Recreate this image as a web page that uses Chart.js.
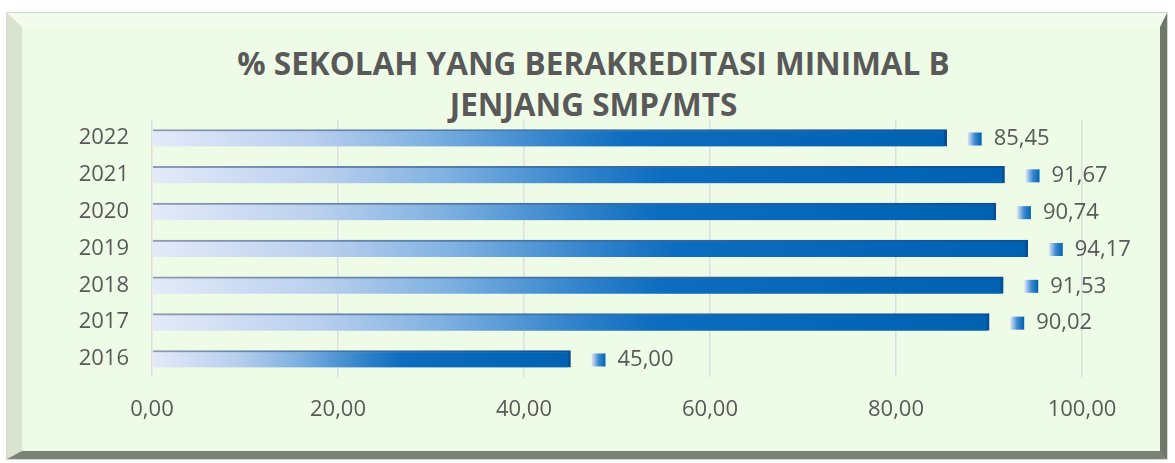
<!DOCTYPE html>
<html><head><meta charset="utf-8">
<script src="https://cdn.jsdelivr.net/npm/chart.js@4/dist/chart.umd.min.js"></script>
<style>
html,body{margin:0;padding:0;background:#fff;width:1175px;height:463px;overflow:hidden;font-family:"Open Sans",sans-serif;}
#frame{position:absolute;left:7px;top:13px;width:1138px;height:424px;background:#eefbe6;
 border-style:solid;border-width:14px 7px 8px 15px;border-color:#f3faee #6f776a #7b8377 #d9e3d0;
 box-shadow:0 0 0 1px #d4d8d0;}
#title{position:absolute;left:0;width:1175px;top:42px;text-align:center;color:#595959;font-weight:700;font-size:31.5px;line-height:41px;padding-left:12px;box-sizing:border-box;}
canvas{position:absolute;left:0;top:0;}
</style></head>
<body>
<div id="frame"></div>
<div id="title">% SEKOLAH YANG BERAKREDITASI MINIMAL B<br>JENJANG SMP/MTS</div>
<canvas id="c" width="1175" height="463"></canvas>
<script>
const years = ["2022","2021","2020","2019","2018","2017","2016"];
const values = [85.45, 91.67, 90.74, 94.17, 91.53, 90.02, 45.00];
const xTicks = [0, 20, 40, 60, 80, 100];

const fmt = v => v.toFixed(2).replace('.', ',');
const TXT = '#595959';

function barGrad(ctx, dark) {
  const chart = ctx.chart;
  if (!chart.chartArea) return '#0a6bbf';
  const xs = chart.scales.x;
  const x0 = xs.getPixelForValue(0), x1 = xs.getPixelForValue(ctx.raw);
  const g = chart.ctx.createLinearGradient(x0, 0, x1, 0);
  if (dark) {
    g.addColorStop(0, '#8d9bb5'); g.addColorStop(0.5, '#3a6fa6'); g.addColorStop(1, '#0a4e95');
  } else {
    g.addColorStop(0, '#e4eaf9'); g.addColorStop(0.2, '#b9cfee'); g.addColorStop(0.35, '#7db0e1');
    g.addColorStop(0.5, '#3384cc'); g.addColorStop(0.6, '#0c6cbf'); g.addColorStop(1, '#0062b1');
  }
  return g;
}

const labelPlugin = {
  id: 'valLabels',
  afterDatasetsDraw(chart) {
    const c = chart.ctx;
    const meta = chart.getDatasetMeta(0);
    c.save();
    meta.data.forEach((bar, i) => {
      const xe = bar.x, yc = bar.y;
      const mx = xe + 21, my = yc - 5.5;
      const g = c.createLinearGradient(mx, 0, mx + 14, 0);
      g.addColorStop(0, '#dfe8f8'); g.addColorStop(0.5, '#3f8ad0'); g.addColorStop(1, '#0062b1');
      c.fillStyle = g;
      c.fillRect(mx, my, 14, 13);
      c.fillStyle = TXT;
      c.font = '22px "Open Sans"';
      c.textAlign = 'left';
      c.textBaseline = 'middle';
      c.fillText(fmt(values[i]), xe + 47, yc + 1);
    });
    c.restore();
  }
};

new Chart(document.getElementById('c'), {
  type: 'bar',
  data: {
    labels: years,
    datasets: [{
      data: values,
      backgroundColor: ctx => barGrad(ctx, false),
      borderColor: ctx => barGrad(ctx, true),
      borderWidth: {top: 2, right: 3, bottom: 0, left: 0},
      borderSkipped: false,
      barThickness: 17
    }]
  },
  options: {
    indexAxis: 'y',
    responsive: false,
    animation: false,
    layout: {padding: {top: 119.6, right: 93, left: 0, bottom: 0}},
    plugins: {legend: {display: false}, tooltip: {enabled: false}, title: {display: false}},
    scales: {
      x: {
        min: 0, max: 100,
        afterBuildTicks: s => { s.ticks = xTicks.map(v => ({value: v})); },
        afterFit: s => { s.height = 463 - 377.4; },
        ticks: {color: TXT, font: {family: 'Open Sans', size: 22}, padding: 19, callback: v => fmt(v), maxRotation: 0},
        grid: {color: '#dcdfe0', drawTicks: false, lineWidth: 1.5},
        border: {display: false}
      },
      y: {
        afterFit: s => { s.width = 152; },
        ticks: {color: TXT, font: {family: 'Open Sans', size: 22}, padding: 23},
        grid: {display: false, drawTicks: false},
        border: {display: false}
      }
    }
  },
  plugins: [labelPlugin]
});
</script>
</body></html>
